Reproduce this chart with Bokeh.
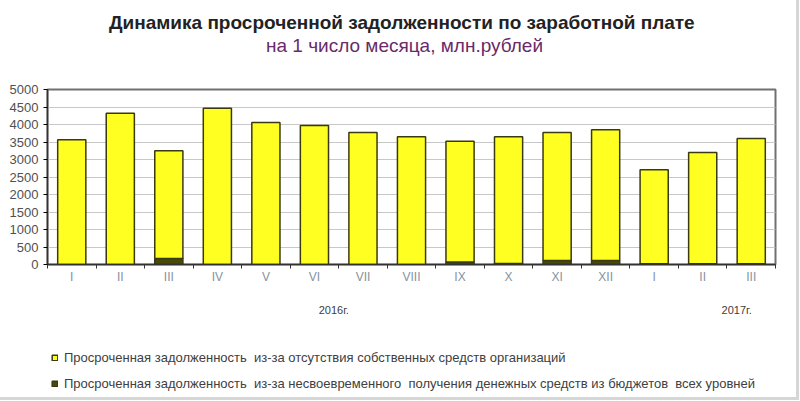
from bokeh.plotting import figure
from bokeh.models import (ColumnDataSource, FixedTicker, Legend, LegendItem, LinearAxis, Label)
from bokeh.layouts import column
from bokeh.embed import file_html
from bokeh.resources import INLINE

months = ["I", "II", "III", "IV", "V", "VI", "VII", "VIII", "IX", "X", "XI", "XII", "I", "II", "III"]
# budget-related arrears (dark, bottom of stack), mln rub
budget = [0, 0, 170, 0, 0, 0, 0, 0, 70, 30, 115, 115, 25, 25, 25]
# arrears due to lack of own funds (yellow, stacked on top)
own = [3565, 4325, 3080, 4465, 4055, 3970, 3770, 3650, 3455, 3620, 3655, 3735, 2680, 3175, 3575]
years = ["2016г.", "2017г."]
year_pos = [6.4, 14.7]
yticks = [0, 500, 1000, 1500, 2000, 2500, 3000, 3500, 4000, 4500, 5000]
series_names = ["Просроченная задолженность  из-за отсутствия собственных средств организаций",
                "Просроченная задолженность  из-за несвоевременного  получения денежных средств из бюджетов  всех уровней"]
title_text = "Динамика просроченной задолженности  по заработной плате"
subtitle_text = "на 1 число месяца, млн.рублей"
fills = ["#ffff22", "#4a4a08"]
edge = "#3a3a10"

W = 796
LEFT, RIGHT = 47, 21
TOP_H = 80

# ---- title strip ----
tf = figure(width=W, height=TOP_H, x_range=(0, 1), y_range=(0, 1),
            output_backend="svg", toolbar_location=None,
            min_border_left=LEFT, min_border_right=RIGHT, min_border_top=0, min_border_bottom=0)
tf.axis.visible = False
tf.grid.visible = False
tf.outline_line_color = None
tf.add_layout(Label(x=404 - LEFT, y=TOP_H - 22, x_units="screen", y_units="screen", text=title_text,
                    text_font="Liberation Sans", text_font_style="bold", text_font_size="19px",
                    text_color="#222222", text_align="center", text_baseline="middle"))
tf.add_layout(Label(x=404 - LEFT, y=TOP_H - 45, x_units="screen", y_units="screen", text=subtitle_text,
                    text_font="Liberation Sans", text_font_size="19px",
                    text_color="#6a2a6a", text_align="center", text_baseline="middle"))

# ---- chart ----
x = list(range(1, len(months) + 1))
src = ColumnDataSource(dict(x=x, budget=budget, own=own))

p = figure(width=W, height=264 - TOP_H + 76, x_range=(0.5, 15.5), y_range=(0, 5000),
           output_backend="svg", toolbar_location=None,
           min_border_left=LEFT, min_border_right=RIGHT, min_border_top=89 - TOP_H, min_border_bottom=76)

r = p.vbar_stack(["budget", "own"], x="x", width=0.58, source=src,
                 fill_color=[fills[1], fills[0]], line_color=edge, line_width=1.5)

p.outline_line_color = "#707070"
p.outline_line_width = 2

p.xgrid.grid_line_color = None
p.ygrid.grid_line_color = "#c8c8c8"
p.ygrid.ticker = FixedTicker(ticks=yticks)

p.xaxis.ticker = FixedTicker(ticks=x, minor_ticks=[i + 0.5 for i in range(0, 16)])
p.xaxis.major_label_overrides = {i: m for i, m in zip(x, months)}
p.xaxis.major_tick_line_color = None
p.xaxis.major_tick_out = 0
p.xaxis.major_tick_in = 0
p.xaxis.minor_tick_line_color = "#333333"
p.xaxis.minor_tick_out = 4
p.xaxis.minor_tick_in = 0
p.xaxis.axis_line_color = "#333333"
p.xaxis.axis_line_width = 1.5
p.xaxis.major_label_text_color = "#8593a0"
p.xaxis.major_label_text_font = "Liberation Sans"
p.xaxis.major_label_text_font_size = "12px"
p.xaxis.major_label_standoff = 1

p.yaxis.ticker = FixedTicker(ticks=yticks)
p.yaxis.minor_tick_line_color = None
p.yaxis.major_tick_out = 4
p.yaxis.major_tick_in = 0
p.yaxis.axis_line_color = "#333333"
p.yaxis.axis_line_width = 1.5
p.yaxis.major_label_text_color = "#505050"
p.yaxis.major_label_text_font = "Liberation Sans"
p.yaxis.major_label_text_font_size = "13px"
p.yaxis.major_label_standoff = 5

yax = LinearAxis(ticker=FixedTicker(ticks=year_pos),
                 major_label_overrides={xp: yl for xp, yl in zip(year_pos, years)},
                 axis_line_color=None, major_tick_line_color=None, minor_tick_line_color=None,
                 major_tick_out=0, major_tick_in=0,
                 major_label_text_font="Liberation Sans", major_label_text_font_size="11px",
                 major_label_text_color="#404040", major_label_standoff=17)
p.add_layout(yax, "below")

# ---- legend strip ----
lg = figure(width=W, height=57, x_range=(0, 1), y_range=(0, 1),
            output_backend="svg", toolbar_location=None,
            min_border_left=LEFT, min_border_right=RIGHT, min_border_top=0, min_border_bottom=0)
lg.axis.visible = False
lg.grid.visible = False
lg.outline_line_color = None
proxy = ColumnDataSource(dict(x=[0.5], top=[1]))
rs = [lg.vbar(x="x", top="top", width=0.1, source=proxy, fill_color=f, line_color=edge,
              line_width=1.5, visible=False)
      for f in fills]
legend = Legend(items=[LegendItem(label=n, renderers=[rr]) for n, rr in zip(series_names, rs)],
                location=(51 - LEFT, 6), orientation="vertical", background_fill_alpha=0,
                border_line_color=None, inactive_fill_alpha=0,
                label_text_font="Liberation Sans", label_text_font_size="13px", label_text_color="#404040",
                glyph_width=7, glyph_height=7, label_height=16, spacing=10, padding=0, margin=0,
                label_standoff=6)
lg.add_layout(legend, "center")

layout = column(tf, p, lg, spacing=0)
layout.styles = {"border-right": "3px solid #d6d6d6", "border-bottom": "3px solid #d6d6d6"}
open("out.html", "w").write(file_html(layout, INLINE))
